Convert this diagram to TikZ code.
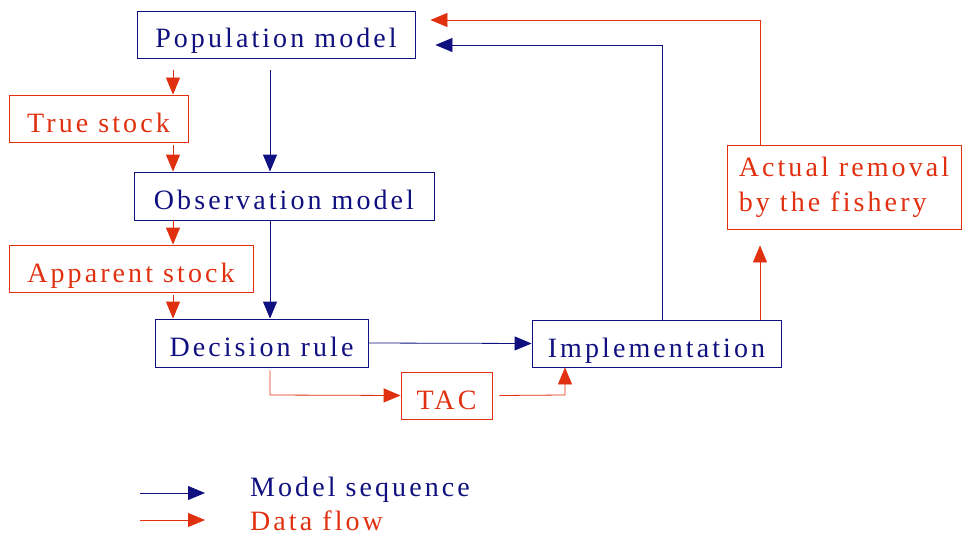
\documentclass[tikz,border=0pt]{standalone}
\usepackage{fontspec}
\setmainfont{Liberation Serif}[LetterSpace=11]
\usetikzlibrary{arrows.meta}
\definecolor{seqblue}{RGB}{16,16,128}
\definecolor{flowred}{RGB}{224,48,16}

\begin{document}
\begin{tikzpicture}[x=1pt,y=-1pt]

    \tikzset{
      modelbox/.style={
        draw=seqblue,
        text=seqblue,
        line width=0.8pt,
        inner sep=0pt,
        text height=27pt,
        text depth=0pt,
        font=\fontsize{28}{35}\selectfont,
      },
      databox/.style={
        modelbox,
        draw=flowred,
        text=flowred,
      },
      seq/.style={draw=seqblue, line width=0.8pt, -{Triangle[length=17pt,width=14pt]}},
      flow/.style={draw=flowred, line width=0.8pt, -{Triangle[length=17pt,width=14pt]}},
      legendtext/.style={anchor=base west, inner sep=0pt, font=\fontsize{28}{35}\selectfont},
    }
    \useasboundingbox (0,0) rectangle (962,535);

	% boxes of the model sequence
	\node[modelbox, minimum width=278pt, minimum height=47pt] (pop) at (276,34.5) {Population model};
	\node[modelbox, minimum width=300pt, minimum height=48pt] (obs) at (284,196) {Observation model};
	\node[modelbox, minimum width=213pt, minimum height=48pt] (dec) at (261.5,343) {Decision rule};
	\node[modelbox, minimum width=249pt, minimum height=47pt] (impl) at (656.5,343.5) {Implementation};

	% boxes of the data
	\node[databox, minimum width=179pt, minimum height=47pt] (true) at (98.5,118.5) {True stock};
	\node[databox, minimum width=244pt, minimum height=47pt] (app) at (131,268.5) {Apparent stock};
	\node[databox, minimum width=91pt, minimum height=47pt] (tac) at (446.5,395.5) {TAC};
	\node[databox, text height=, text depth=, minimum width=234pt, minimum height=84pt, align=left] (act) at (844,187) {Actual removal\\by the fishery};

	\coordinate (rcol) at (173,0);
	\coordinate (bcol) at (270,0);
	\coordinate (bturn) at (662,45);
	\coordinate (rturn) at (760,20);
	\coordinate (tacturn) at (565,395);
	\coordinate (decturn) at (270,395);

	% model sequence
	\draw[seq] ([yshift=-12pt]pop.south -| bcol) -- (obs.north -| bcol);
	\draw[seq] (obs.south -| bcol) -- (dec.north -| bcol);
	\draw[seq] (dec.east) -- (impl.west);
	\draw[seq] (impl.north -| bturn) -- (bturn) -- ([xshift=20pt,yshift=-10.5pt]pop.east);

	% data flow
	\draw[flow] ([yshift=-12pt]pop.south -| rcol) -- (true.north -| rcol);
	\draw[flow] ([yshift=-3pt]true.south -| rcol) -- (obs.north -| rcol);
	\draw[flow] (obs.south -| rcol) -- (app.north -| rcol);
	\draw[flow] ([yshift=-3pt]app.south -| rcol) -- (dec.north -| rcol);
	\draw[flow] ([yshift=-3pt]dec.south -| decturn) -- (decturn) -- (tac.west);
	\draw[flow] ([xshift=7pt]tac.east) -- (tacturn) -- (impl.south -| tacturn);
	\draw[flow] (impl.north -| rturn) -- ([yshift=-16pt]act.south -| rturn);
	\draw[flow] (act.north -| rturn) -- (rturn) -- ([xshift=15pt,yshift=14.5pt]pop.east);

	% legend
	\coordinate (seqa) at (140,493);
	\coordinate (seqb) at (205,493);
	\coordinate (flowa) at (140,520);
	\coordinate (flowb) at (205,520);
	\draw[seq] (seqa) -- (seqb);
	\draw[flow] (flowa) -- (flowb);
	\node[legendtext, text=seqblue] (seqlabel) at (250,496) {Model sequence};
	\node[legendtext, text=flowred] (flowlabel) at (250,530) {Data flow};

\end{tikzpicture}
\end{document}
